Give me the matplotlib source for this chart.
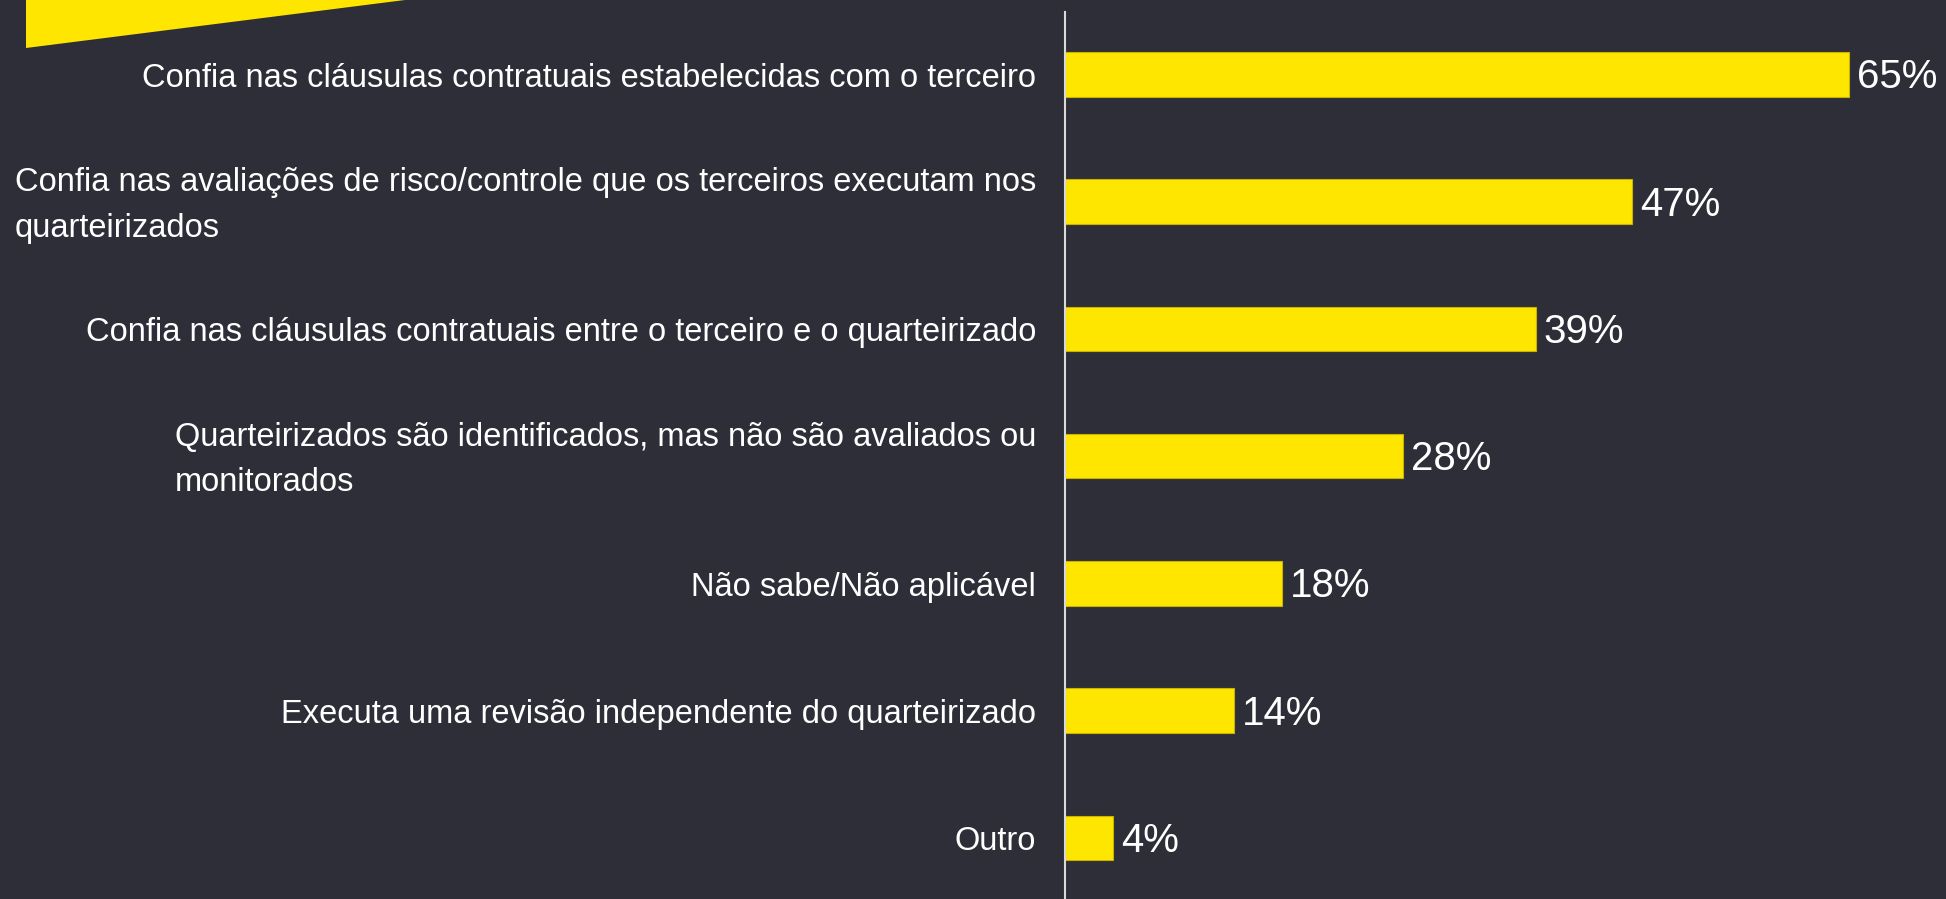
import matplotlib.pyplot as plt
from matplotlib.patches import Polygon
import matplotlib.transforms as mtransforms

categories = [
    "Confia nas cláusulas contratuais estabelecidas com o terceiro",
    "Confia nas avaliações de risco/controle que os terceiros executam nos\nquarteirizados",
    "Confia nas cláusulas contratuais entre o terceiro e o quarteirizado",
    "Quarteirizados são identificados, mas não são avaliados ou\nmonitorados",
    "Não sabe/Não aplicável",
    "Executa uma revisão independente do quarteirizado",
    "Outro",
]
values = [65, 47, 39, 28, 18, 14, 4]

BG = "#2E2E38"
YELLOW = "#FFE600"

plt.rcParams['font.family'] = ['Liberation Sans', 'DejaVu Sans']

fig = plt.figure(figsize=(19.46, 8.99), dpi=100, facecolor=BG)
ax = fig.add_axes([1065 / 1946, 0.0, 1 - 1065 / 1946, (899 - 12) / 899])
ax.set_facecolor(BG)

pos = list(range(len(values)))
ax.barh(pos, values, height=0.35, color=YELLOW, edgecolor="#C8B400", linewidth=0.8)

ax.set_xlim(0, 73)
ax.set_ylim(6.48, -0.49)
for s in ["top", "right", "bottom"]:
    ax.spines[s].set_visible(False)
ax.spines["left"].set_color("#D9D9D9")
ax.spines["left"].set_linewidth(1.5)
ax.set_xticks([])
ax.set_yticks([])

for i, (lab, v) in enumerate(zip(categories, values)):
    ax.annotate(lab, xy=(0, i), xytext=(-29, -4), textcoords="offset pixels",
                ha="right", va="center", multialignment="left",
                linespacing=1.6, color="white", fontsize=23.5)
    ax.annotate(f"{v}%", xy=(v, i), xytext=(8, -3), textcoords="offset pixels",
                ha="left", va="center", color="white", fontsize=29)

# yellow slash in the top-left corner
tri = Polygon([[26, 899], [26, 899 - 48], [405, 899]], closed=True,
              facecolor=YELLOW, edgecolor="none",
              transform=mtransforms.IdentityTransform())
fig.patches.append(tri)

fig.savefig("out.png", dpi=100, facecolor=BG)
